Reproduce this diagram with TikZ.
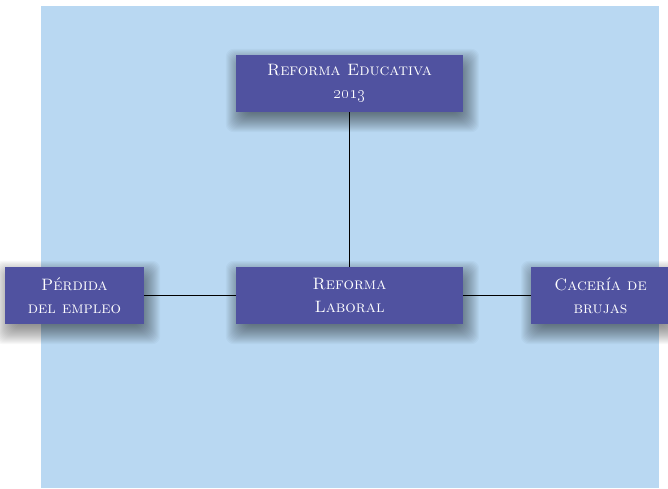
\documentclass[tikz,border=0pt]{standalone}
\usetikzlibrary{backgrounds}
\definecolor{fondo}{RGB}{185,216,242}
\definecolor{morado}{RGB}{80,82,160}
% soft shadow under a box
\newcommand{\sombra}[1]{%
    \foreach \k in {-6,...,13}
        \fill[black, opacity=0.028, rounded corners=8pt]
            ([xshift=3pt-\k pt, yshift=-7pt-\k pt]#1.south west) rectangle ([xshift=3pt+\k pt, yshift=-7pt+\k pt]#1.north east);}

\begin{document}
\begin{tikzpicture}[x=1pt, y=1pt,
        tema/.style={fill=morado, text=white, minimum width=227pt, minimum height=57pt,
            inner sep=0pt, align=center, font=\fontsize{16.5}{23}\selectfont\scshape},
        lado/.style={tema, minimum width=139pt}]
                \useasboundingbox (0,0) rectangle (668,488);
                \clip (0,0) rectangle (668,488);
                \begin{pgfonlayer}{background}
                    \path[fill=fondo] (41,0) rectangle (659,482);
                \end{pgfonlayer}

                \node[tema] (edu) at (349.5,404.5) {Reforma Educativa\\{\fontsize{19}{23}\selectfont\oldstylenums{2013}}};
                \node[tema] (laboral) at (349.5,192.5) {Reforma\\Laboral};
                \node[lado] (perdida) at (74.5,192.5) {Pérdida\\del empleo};
                \node[lado] (caceria) at (600.5,192.5) {Cacería de\\brujas};

                \begin{pgfonlayer}{background}
                    \sombra{edu} \sombra{laboral} \sombra{perdida} \sombra{caceria}
                \end{pgfonlayer}

                \path[draw, line width=1pt](edu)to(laboral);
                \path[draw, line width=1pt](perdida)to(laboral);
                \path[draw, line width=1pt](laboral)to(caceria);
            \end{tikzpicture}
\end{document}
